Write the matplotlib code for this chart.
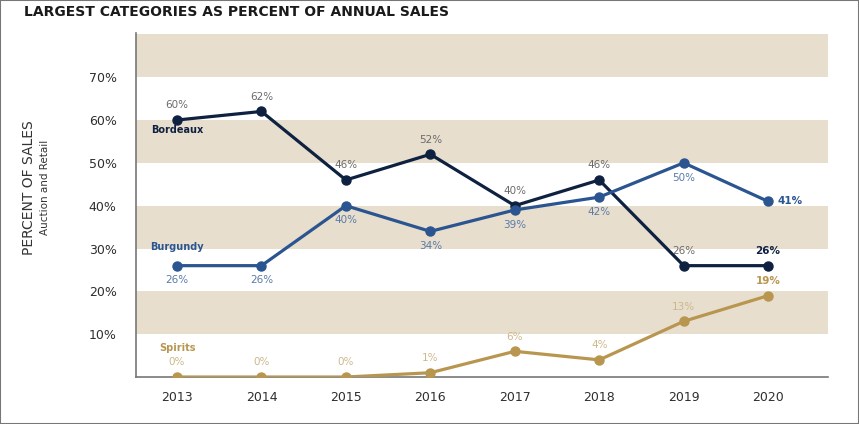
import numpy as np
import matplotlib.pyplot as plt

years = [2013, 2014, 2015, 2016, 2017, 2018, 2019, 2020]
bordeaux = [60, 62, 46, 52, 40, 46, 26, 26]
burgundy = [26, 26, 40, 34, 39, 42, 50, 41]
spirits = [0, 0, 0, 1, 6, 4, 13, 19]
yticks = [10, 20, 30, 40, 50, 60, 70]

NAVY = "#0f2140"
BLUE = "#2b5590"
GOLD = "#b9964f"
BAND = "#e7dece"
LABEL_GREY = "#6b6b6b"

fig = plt.figure(figsize=(8.59, 4.24), dpi=100)
ax = fig.add_axes([0.1583, 0.1108, 0.8057, 0.8112])

# alternating bands
for lo in range(10, 80, 20):
    ax.axhspan(lo, lo + 10, color=BAND, lw=0, zorder=0)

ax.set_ylim(0, 80.3)
ax.set_xlim(2013 - 0.486, 2020 + 0.71)

ax.plot(years, bordeaux, color=NAVY, lw=2.3, marker="o", ms=6.5, zorder=3)
ax.plot(years, burgundy, color=BLUE, lw=2.3, marker="o", ms=6.5, zorder=3)
ax.plot(years, spirits, color=GOLD, lw=2.3, marker="o", ms=6.5, zorder=3)

# data labels
for i, (x, v) in enumerate(zip(years, bordeaux)):
    last = i == len(years) - 1
    ax.annotate(f"{v}%", (x, v), xytext=(0, 7), textcoords="offset points",
                ha="center", va="bottom", fontsize=7.5,
                color=NAVY if last else LABEL_GREY,
                fontweight="bold" if last else "normal")
for i, (x, v) in enumerate(zip(years, burgundy)):
    if i == len(years) - 1:
        ax.annotate(f"{v}%", (x, v), xytext=(7, 0), textcoords="offset points",
                    ha="left", va="center", fontsize=7.5, color=BLUE,
                    fontweight="bold")
    else:
        ax.annotate(f"{v}%", (x, v), xytext=(0, -7), textcoords="offset points",
                    ha="center", va="top", fontsize=7.5, color="#5a7aa8")
for i, (x, v) in enumerate(zip(years, spirits)):
    last = i == len(years) - 1
    ax.annotate(f"{v}%", (x, v), xytext=(0, 7), textcoords="offset points",
                ha="center", va="bottom", fontsize=7.5,
                color=GOLD if last else "#cdb88a",
                fontweight="bold" if last else "normal")

# series names
ax.text(years[0], 57.6, "Bordeaux", color=NAVY, fontsize=7, fontweight="bold",
        ha="center", va="center")
ax.text(years[0], 30.3, "Burgundy", color=BLUE, fontsize=7, fontweight="bold",
        ha="center", va="center")
ax.text(years[0], 6.7, "Spirits", color=GOLD, fontsize=7, fontweight="bold",
        ha="center", va="center")

ax.set_yticks(yticks)
ax.set_yticklabels([f"{t}%" for t in yticks])
ax.set_xticks(years)
ax.set_xticklabels([str(y) for y in years])
ax.tick_params(axis="both", length=0, labelsize=9, colors="#2e2e2e")
ax.tick_params(axis="y", pad=14)
ax.tick_params(axis="x", pad=10)

for s in ["top", "right"]:
    ax.spines[s].set_visible(False)
ax.spines["left"].set_color("#777777")
ax.spines["bottom"].set_color("#777777")
ax.spines["left"].set_linewidth(1.2)
ax.spines["bottom"].set_linewidth(1.2)

fig.text(0.034, 0.557, "PERCENT OF SALES", rotation=90, fontsize=10,
         color="#333333", ha="center", va="center")
fig.text(0.052, 0.557, "Auction and Retail", rotation=90, fontsize=7.5,
         color="#333333", ha="center", va="center")

fig.text(0.028, 0.972, "LARGEST CATEGORIES AS PERCENT OF ANNUAL SALES",
         fontsize=10, fontweight="heavy", color="#1a1a1a", ha="left", va="center")

# thin frame around the picture
fig.patches.append(plt.Rectangle((0, 0), 1, 1, transform=fig.transFigure,
                                 fill=False, edgecolor="#777777", lw=1.5))

fig.savefig("out.png", dpi=100)
